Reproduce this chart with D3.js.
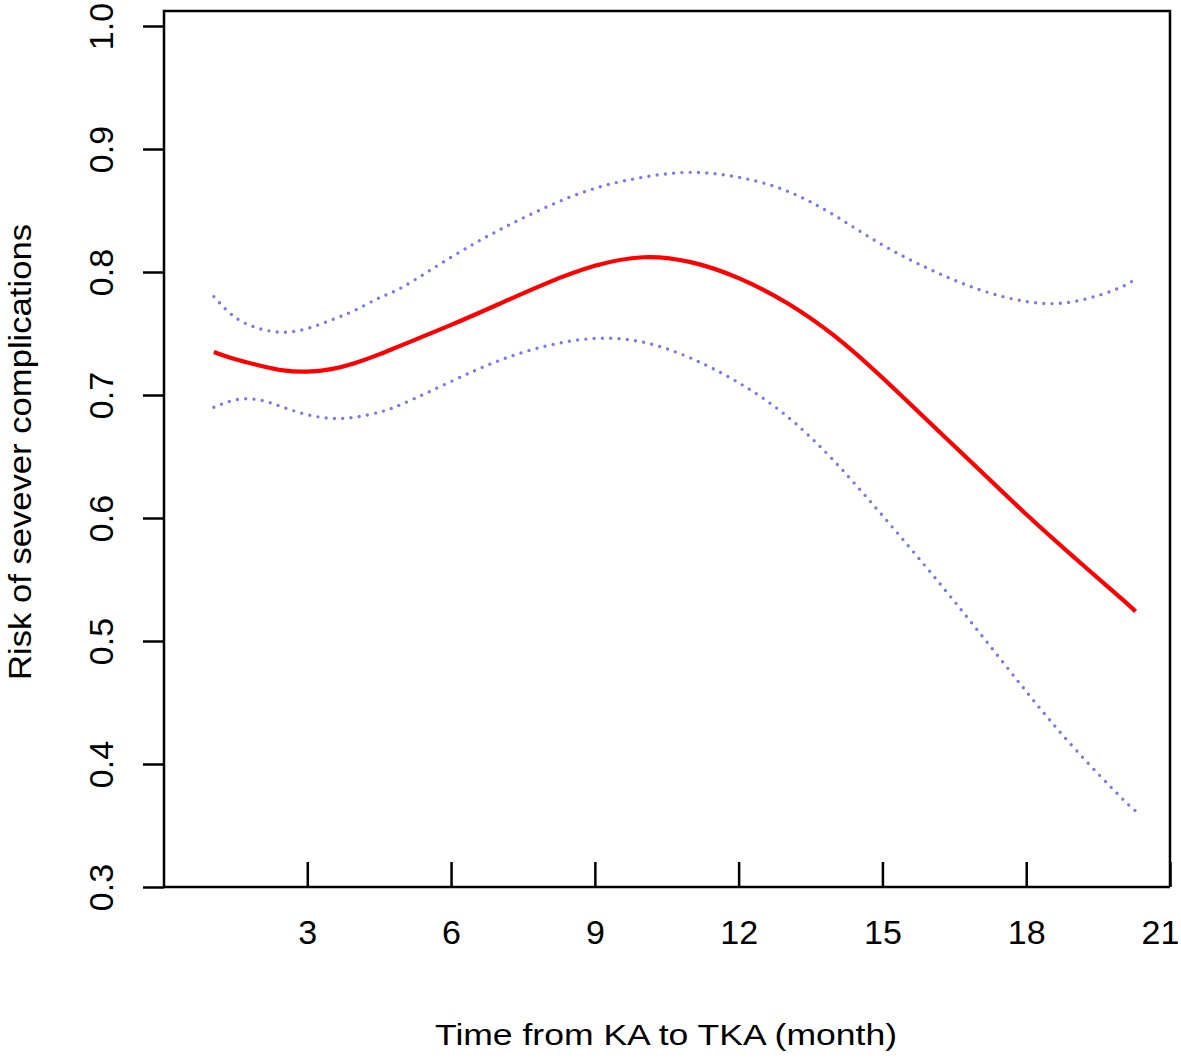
<!DOCTYPE html>
<html>
<head>
<meta charset="utf-8">
<script src="https://cdn.jsdelivr.net/npm/d3@7"></script>
<style>
  html, body { margin: 0; padding: 0; background: #ffffff; }
  svg { display: block; font-family: "Liberation Sans", Arial, Helvetica, sans-serif; }
</style>
</head>
<body>
<svg id="chart" width="1181" height="1060"></svg>
<script>
// ---- data ----
const months = [1.05, 1.5, 2.0, 2.5, 3.0, 3.5, 4.0, 4.5, 5.0, 6.0, 7.0, 8.0, 9.0, 10.0,
                11.0, 12.0, 13.0, 14.0, 15.0, 16.0, 17.0, 18.0, 19.0, 20.0, 20.28];
const riskFit = [0.735, 0.729, 0.724, 0.720, 0.719, 0.721, 0.726, 0.733, 0.741, 0.757, 0.774,
                 0.791, 0.805, 0.812, 0.808, 0.795, 0.775, 0.748, 0.714, 0.677, 0.640, 0.603,
                 0.568, 0.534, 0.524];
const upperCI = [0.780, 0.763, 0.754, 0.751, 0.754, 0.761, 0.769, 0.779, 0.788, 0.812, 0.834,
                 0.853, 0.868, 0.877, 0.881, 0.877, 0.866, 0.846, 0.822, 0.802, 0.786, 0.776,
                 0.776, 0.788, 0.796];
const lowerCI = [0.690, 0.696, 0.696, 0.690, 0.684, 0.681, 0.682, 0.686, 0.693, 0.711, 0.728,
                 0.740, 0.746, 0.743, 0.730, 0.710, 0.683, 0.646, 0.602, 0.556, 0.508, 0.459,
                 0.413, 0.372, 0.362];
const xTicks = [3, 6, 9, 12, 15, 18, 21];
const yTicks = [0.3, 0.4, 0.5, 0.6, 0.7, 0.8, 0.9, 1.0];
const xTitle = "Time from KA to TKA (month)";
const yTitle = "Risk of sevever complications";

// ---- layout ----
const svg = d3.select("#chart");
const boxL = 164, boxR = 1170, boxT = 11, boxB = 887;
const x = d3.scaleLinear().domain([0, 21]).range([163.5, 1170]);
const y = d3.scaleLinear().domain([0.3, 1.0]).range([887, 26]);

// box
svg.append("path")
  .attr("d", `M${boxL},${boxB} L${boxL},${boxT} L${boxR},${boxT} L${boxR},${boxB}`)
  .attr("fill", "none").attr("stroke", "#000").attr("stroke-width", 2.5);

// x axis (ticks inward)
const gx = svg.append("g").attr("transform", `translate(0,${boxB})`)
  .call(d3.axisBottom(x).tickValues(xTicks).tickFormat(d3.format("d"))
        .tickSizeInner(-25).tickSizeOuter(0).tickPadding(33));
gx.select(".domain").attr("stroke-width", 2.5).attr("d", `M${boxL},0H${boxR}`);
gx.selectAll(".tick line").attr("stroke-width", 2.5);
gx.selectAll(".tick text").attr("font-size", 34).attr("fill", "#000")
  .attr("font-family", "Liberation Sans, Arial, sans-serif")
  .attr("dx", d => d === 21 ? -10 : 0);

// y axis (ticks outward, labels rotated)
const gy = svg.append("g").attr("transform", `translate(${boxL},0)`)
  .call(d3.axisLeft(y).tickValues(yTicks).tickFormat(d3.format(".1f"))
        .tickSizeInner(21).tickSizeOuter(0));
gy.select(".domain").remove();
gy.selectAll(".tick line").attr("stroke-width", 2.5);
gy.selectAll(".tick text")
  .attr("transform", "rotate(-90)")
  .attr("x", 0).attr("y", -51).attr("dy", 0)
  .attr("text-anchor", "middle")
  .attr("font-size", 34).attr("fill", "#000")
  .attr("font-family", "Liberation Sans, Arial, sans-serif");

// titles
svg.append("text")
  .attr("x", 666).attr("y", 1045)
  .attr("text-anchor", "middle")
  .attr("font-size", 30)
  .attr("textLength", 462).attr("lengthAdjust", "spacingAndGlyphs")
  .attr("fill", "#000")
  .text(xTitle);

svg.append("text")
  .attr("transform", "translate(31,452) rotate(-90)")
  .attr("text-anchor", "middle")
  .attr("font-size", 31)
  .attr("textLength", 456).attr("lengthAdjust", "spacingAndGlyphs")
  .attr("fill", "#000")
  .text(yTitle);

// lines
const line = vals => d3.line()
  .x((d, i) => x(months[i]))
  .y(d => y(d))
  .curve(d3.curveNatural)(vals);

svg.append("path").attr("d", line(upperCI))
  .attr("fill", "none").attr("stroke", "#7878ff").attr("stroke-width", 3.4)
  .attr("stroke-linecap", "round").attr("stroke-dasharray", "0 8.3");
svg.append("path").attr("d", line(lowerCI))
  .attr("fill", "none").attr("stroke", "#7878ff").attr("stroke-width", 3.4)
  .attr("stroke-linecap", "round").attr("stroke-dasharray", "0 8.3");
svg.append("path").attr("d", line(riskFit))
  .attr("fill", "none").attr("stroke", "#ff0000").attr("stroke-width", 4.2);
</script>
</body>
</html>
